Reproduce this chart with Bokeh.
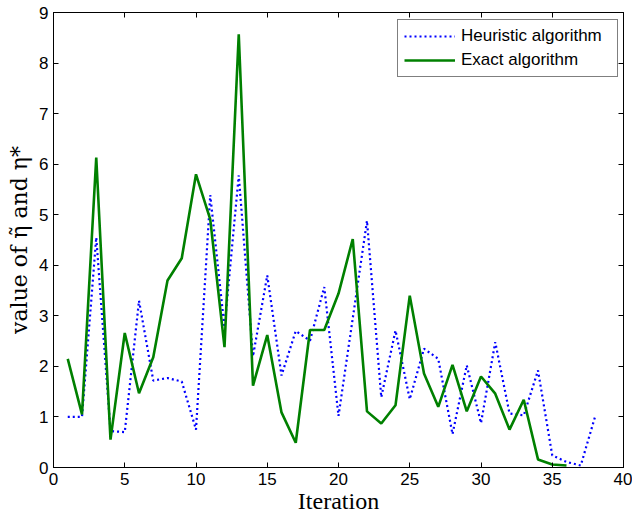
from bokeh.plotting import figure
from bokeh.models import Range1d, LinearAxis, FixedTicker, Legend, LegendItem
from bokeh.embed import file_html
from bokeh.resources import INLINE

iter_heur = list(range(1, 39))
heuristic = [1.0, 1.0, 4.55, 0.72, 0.70, 3.30, 1.72, 1.77, 1.70, 0.75,
             5.39, 2.77, 5.78, 2.20, 3.80, 1.82, 2.70, 2.51, 3.57, 1.02,
             2.95, 4.88, 1.39, 2.71, 1.35, 2.35, 2.15, 0.66, 2.02, 0.88,
             2.48, 1.07, 1.03, 1.92, 0.24, 0.11, 0.04, 1.0]
iter_exact = list(range(1, 37))
exact = [2.15, 1.05, 6.13, 0.55, 2.66, 1.47, 2.18, 3.70, 4.14, 5.80,
         4.91, 2.38, 8.57, 1.62, 2.62, 1.09, 0.49, 2.72, 2.72, 3.44,
         4.52, 1.11, 0.87, 1.23, 3.40, 1.86, 1.20, 2.03, 1.11, 1.80,
         1.46, 0.75, 1.34, 0.16, 0.06, 0.04]
x_ticks = [0, 5, 10, 15, 20, 25, 30, 35, 40]
y_ticks = [0, 1, 2, 3, 4, 5, 6, 7, 8, 9]
x_label = "Iteration"
y_label = "value of \u03b7\u0303 and \u03b7*"
labels = ["Heuristic algorithm", "Exact algorithm"]

p = figure(width=632, height=520, output_backend="svg", toolbar_location=None,
           x_range=Range1d(0, 40), y_range=Range1d(0, 9),
           min_border_left=53, min_border_right=9, min_border_top=12,
           min_border_bottom=53)
p.xgrid.visible = False
p.ygrid.visible = False
p.outline_line_color = "black"
p.outline_line_width = 1
p.background_fill_color = "white"
p.border_fill_color = "white"

r1 = p.line(iter_heur, heuristic, line_color="#0000FF", line_width=2.2,
            line_dash="2 3")
r2 = p.line(iter_exact, exact, line_color="#008000", line_width=2.6)

def style_axis(ax, ticks, show_labels=True):
    ax.ticker = FixedTicker(ticks=ticks)
    ax.axis_line_color = "black"
    ax.major_tick_line_color = "black"
    ax.major_tick_in = 5
    ax.major_tick_out = 0
    ax.minor_tick_line_color = None
    ax.major_label_text_font = "Liberation Sans"
    ax.major_label_text_color = "black"
    if show_labels:
        ax.major_label_text_font_size = "17px"
        ax.major_label_standoff = 5
    else:
        ax.major_label_text_font_size = "0px"
        ax.major_label_standoff = 0
        ax.major_label_text_alpha = 0

style_axis(p.xaxis[0], x_ticks)
style_axis(p.yaxis[0], y_ticks)
p.xaxis[0].axis_label = x_label
p.yaxis[0].axis_label = y_label
for ax in (p.xaxis[0], p.yaxis[0]):
    ax.axis_label_text_font_style = "normal"
    ax.axis_label_text_color = "black"
p.xaxis[0].axis_label_text_font = "Liberation Serif"
p.xaxis[0].axis_label_text_font_size = "24px"
p.yaxis[0].axis_label_text_font = "DejaVu Serif"
p.yaxis[0].axis_label_text_font_size = "22px"
p.xaxis[0].axis_label_standoff = 0
p.yaxis[0].axis_label_standoff = 4

top = LinearAxis()
style_axis(top, x_ticks, show_labels=False)
p.add_layout(top, "above")
right = LinearAxis()
style_axis(right, y_ticks, show_labels=False)
p.add_layout(right, "right")

legend = Legend(items=[LegendItem(label=labels[0], renderers=[r1]),
                       LegendItem(label=labels[1], renderers=[r2])],
                location=(344, 390))
legend.border_line_color = "black"
legend.border_line_width = 1
legend.background_fill_color = "white"
legend.background_fill_alpha = 1
legend.label_text_font = "Liberation Sans"
legend.label_text_font_size = "17px"
legend.label_text_color = "black"
legend.glyph_width = 51
legend.glyph_height = 20
legend.label_height = 20
legend.label_standoff = 6
legend.label_width = 150
legend.padding = 6
legend.spacing = 4
legend.margin = 0
p.add_layout(legend, "center")

open("out.html", "w").write(file_html(p, INLINE))
